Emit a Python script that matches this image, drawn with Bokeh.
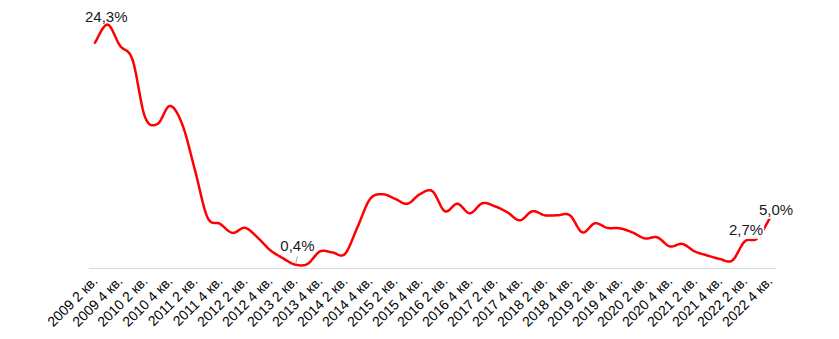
import math
from bokeh.plotting import figure
from bokeh.models import FixedTicker, Range1d, Label
from bokeh.embed import file_html
from bokeh.resources import INLINE

# ---- data ----
years = [2009] * 3 + [y for y in range(2010, 2023) for _ in range(4)]
quarters = [2, 3, 4] + [1, 2, 3, 4] * 13
values = [
    22.5, 24.3, 22.2, 20.8, 15.1, 14.4, 16.2, 14.3, 9.8, 5.1,
    4.45, 3.55, 4.05, 3.1, 1.85, 1.05, 0.4, 0.45, 1.7, 1.6,
    1.45, 4.1, 6.9, 7.4, 6.95, 6.45, 7.4, 7.7, 5.7, 6.45,
    5.5, 6.5, 6.2, 5.6, 4.8, 5.7, 5.3, 5.3, 5.3, 3.6,
    4.5, 4.05, 4.0, 3.6, 3.0, 3.1, 2.2, 2.45, 1.7, 1.3,
    0.95, 0.8, 2.7, 3.0, 5.0,
]
labelled = [1, 16, 52, 54]
label_texts = ["24,3%", "0,4%", "2,7%", "5,0%"]
labels = [f"{y} {q} кв." for y, q in zip(years, quarters)]

n = len(values)
xs_idx = list(range(n))

# smooth (Excel-like) curve through the data points
def smooth(x, y, steps=16):
    sx, sy = [], []
    for i in range(len(x) - 1):
        p0 = (x[max(i - 1, 0)], y[max(i - 1, 0)])
        p1 = (x[i], y[i])
        p2 = (x[i + 1], y[i + 1])
        p3 = (x[min(i + 2, len(x) - 1)], y[min(i + 2, len(x) - 1)])
        c1 = (p1[0] + (p2[0] - p0[0]) / 6, p1[1] + (p2[1] - p0[1]) / 6)
        c2 = (p2[0] - (p3[0] - p1[0]) / 6, p2[1] - (p3[1] - p1[1]) / 6)
        for k in range(steps):
            t = k / steps
            a = (1 - t) ** 3
            b = 3 * (1 - t) ** 2 * t
            c = 3 * (1 - t) * t ** 2
            d = t ** 3
            sx.append(a * p1[0] + b * c1[0] + c * c2[0] + d * p2[0])
            sy.append(a * p1[1] + b * c1[1] + c * c2[1] + d * p2[1])
    sx.append(x[-1])
    sy.append(y[-1])
    return sx, sy

sx, sy = smooth(xs_idx, values)

p = figure(width=839, height=339, output_backend="svg", toolbar_location=None,
           x_range=Range1d(-1.0, n + 2.5), y_range=Range1d(-0.1, 26),
           min_border_left=82, min_border_right=26, min_border_top=7,
           min_border_bottom=70)
p.outline_line_color = None
p.xgrid.visible = False
p.ygrid.visible = False
p.yaxis.visible = False
p.background_fill_color = "white"
p.border_fill_color = "white"

# category axis baseline (only under the categories)
p.segment(x0=[-0.5], y0=[0], x1=[n - 0.5], y1=[0], line_color="#D9D9D9", line_width=1)

p.line(sx, sy, line_color="#FF0000", line_width=2.5, line_join="round", line_cap="round")

ax = p.xaxis[0]
ax.ticker = FixedTicker(ticks=list(range(0, n, 2)))
ax.major_label_overrides = {i: labels[i] for i in range(0, n, 2)}
ax.major_label_orientation = math.pi / 4
ax.axis_line_color = None
ax.major_tick_line_color = None
ax.minor_tick_line_color = None
ax.major_tick_out = 0
ax.major_tick_in = 0
ax.major_label_standoff = 9
ax.major_label_text_font = "Liberation Sans"
ax.major_label_text_font_size = "14px"
ax.major_label_text_color = "#000000"

# leader line for the 0,4% label
i0 = labelled[1]
p.segment(x0=[i0 + 0.2], y0=[values[i0] + 0.8], x1=[i0 + 0.05], y1=[values[i0] + 0.05],
          line_color="#A6A6A6", line_width=1)

offsets = [(-0.1, 0.8), (0.2, 1.85), (0.1, 1.2), (0.5, 0.9)]
for idx, txt, (dx, dy) in zip(labelled, label_texts, offsets):
    p.add_layout(Label(x=idx + dx, y=values[idx] + dy, text=txt,
                       text_align="center", text_baseline="alphabetic",
                       text_font="Liberation Sans", text_font_size="15px",
                       text_color="#1a1a1a",
                       background_fill_color="white" if idx >= 52 else None,
                       padding=1))

open("out.html", "w").write(file_html(p, INLINE))
